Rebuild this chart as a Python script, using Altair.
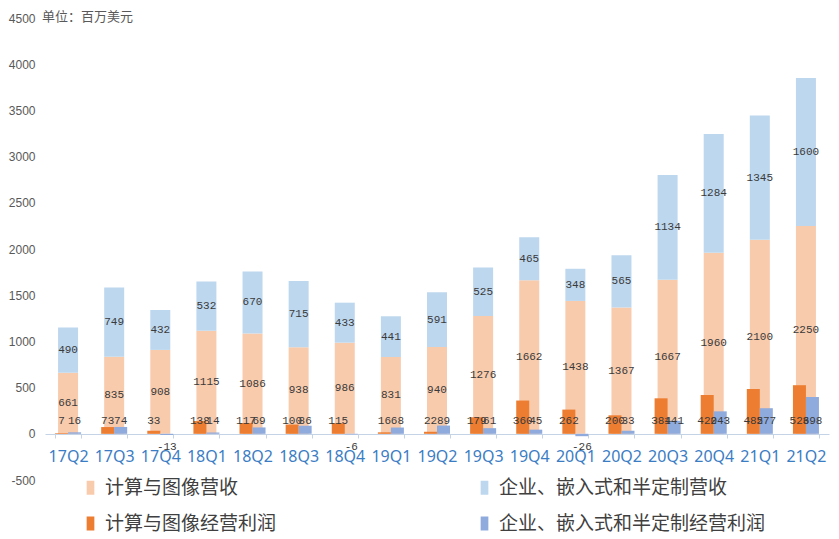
import altair as alt
import pandas as pd

quarters = ["17Q2", "17Q3", "17Q4", "18Q1", "18Q2", "18Q3", "18Q4", "19Q1", "19Q2",
            "19Q3", "19Q4", "20Q1", "20Q2", "20Q3", "20Q4", "21Q1", "21Q2"]
cg_revenue = [661, 835, 908, 1115, 1086, 938, 986, 831, 940, 1276, 1662, 1438, 1367, 1667, 1960, 2100, 2250]
eesc_revenue = [490, 749, 432, 532, 670, 715, 433, 441, 591, 525, 465, 348, 565, 1134, 1284, 1345, 1600]
cg_profit = [7, 73, 33, 138, 117, 100, 115, 16, 22, 179, 360, 262, 200, 384, 420, 485, 526]
eesc_profit = [16, 74, -13, 14, 69, 86, -6, 68, 89, 61, 45, -26, 33, 141, 243, 277, 398]

series_names = ["计算与图像营收", "企业、嵌入式和半定制营收", "计算与图像经营利润", "企业、嵌入式和半定制经营利润"]
series_colors = ["#F8CBAD", "#BDD7EE", "#ED7D31", "#8FAADC"]
y_ticks = list(range(-500, 4501, 500))

rev_rows = []
for i, q in enumerate(quarters):
    rev_rows.append({"quarter": q, "series": series_names[0], "value": cg_revenue[i], "order": 0})
    rev_rows.append({"quarter": q, "series": series_names[1], "value": eesc_revenue[i], "order": 1})
rev_df = pd.DataFrame(rev_rows)

prof_rows = []
for i, q in enumerate(quarters):
    prof_rows.append({"quarter": q, "series": series_names[2], "value": cg_profit[i]})
    prof_rows.append({"quarter": q, "series": series_names[3], "value": eesc_profit[i]})
prof_df = pd.DataFrame(prof_rows)

label_font = "Liberation Mono"
label_size = 11
label_color = "#3A3A3A"

x_enc = alt.X(
    "quarter:N", sort=quarters, title=None,
    scale=alt.Scale(paddingInner=0.436, paddingOuter=0.218),
    axis=alt.Axis(labelAngle=0, labelFont="Noto Sans", labelFontSize=16, labelColor="#3B7DC4",
                  domainColor="#C5D3E6", tickColor="#C5D3E6", tickSize=4, tickBand="extent",
                  labelPadding=10, offset=-46, grid=False),
)
y_scale = alt.Scale(domain=[-500, 4500], nice=False, zero=False)
y_axis = alt.Axis(values=y_ticks, labelExpr="'' + datum.value",
                  labelFont="Liberation Sans Narrow, Liberation Sans",
                  labelFontSize=12, labelColor="#595959", domain=False, ticks=False, grid=False,
                  labelPadding=10)

color_enc = alt.Color(
    "series:N",
    scale=alt.Scale(domain=series_names, range=series_colors),
    legend=alt.Legend(
        title=None, orient="none", legendX=36, legendY=460, columns=2, direction="horizontal",
        columnPadding=198, rowPadding=16, labelFont="Noto Sans CJK SC", labelFontSize=19,
        labelColor="#404040", labelOffset=5, labelLimit=0,
        symbolType="M-0.55,-1L0.55,-1L0.55,1L-0.55,1Z", symbolSize=196,
        symbolStrokeWidth=0, symbolOpacity=1,
    ),
)

rev_bars = alt.Chart(rev_df).mark_bar(size=20).encode(
    x=x_enc,
    y=alt.Y("value:Q", stack="zero", scale=y_scale, axis=y_axis, title=None),
    color=color_enc,
    order=alt.Order("order:Q", sort="ascending"),
)

rev_text = alt.Chart(rev_df).transform_stack(
    stack="value", groupby=["quarter"], as_=["y0", "y1"],
    sort=[alt.SortField("order", order="ascending")],
).transform_calculate(
    mid="(datum.y0 + datum.y1) / 2", label="'' + datum.value"
).mark_text(
    font=label_font, fontSize=label_size, color=label_color, baseline="middle"
).encode(
    x=alt.X("quarter:N", sort=quarters),
    y=alt.Y("mid:Q", scale=y_scale),
    text="label:N",
)

offset_enc = alt.XOffset("series:N", sort=series_names[2:],
                         scale=alt.Scale(domain=series_names[2:], paddingInner=0, paddingOuter=0))

prof_bars = alt.Chart(prof_df).mark_bar().encode(
    x=alt.X("quarter:N", sort=quarters),
    xOffset=offset_enc,
    y=alt.Y("value:Q", stack=None, scale=y_scale),
    y2=alt.Y2(datum=0),
    color=color_enc,
)

prof_text_base = alt.Chart(prof_df).transform_calculate(
    base="0", label="'' + datum.value"
).encode(
    x=alt.X("quarter:N", sort=quarters),
    xOffset=offset_enc,
    y=alt.Y("base:Q", scale=y_scale),
    text="label:N",
)
prof_text_pos = prof_text_base.transform_filter("datum.value >= 0").mark_text(
    font=label_font, fontSize=label_size, color=label_color, baseline="middle", dy=-13
)
prof_text_neg = prof_text_base.transform_filter("datum.value < 0").mark_text(
    font=label_font, fontSize=label_size, color=label_color, baseline="middle", dy=13
)

chart = alt.layer(rev_bars, rev_text, prof_bars, prof_text_pos, prof_text_neg).properties(
    width=784, height=462,
    autosize=alt.AutoSizeParams(type="none"),
    padding={"left": 45, "top": 18, "right": 10, "bottom": 59},
    title=alt.TitleParams("单位：百万美元", anchor="start", orient="top", frame="group",
                          font="Noto Sans CJK SC", fontSize=13, fontWeight="normal",
                          color="#595959", baseline="middle", offset=0, dx=-3, dy=18),
).configure_view(stroke=None)

chart.save("out.html", embed_options={"renderer": "svg", "actions": False})
